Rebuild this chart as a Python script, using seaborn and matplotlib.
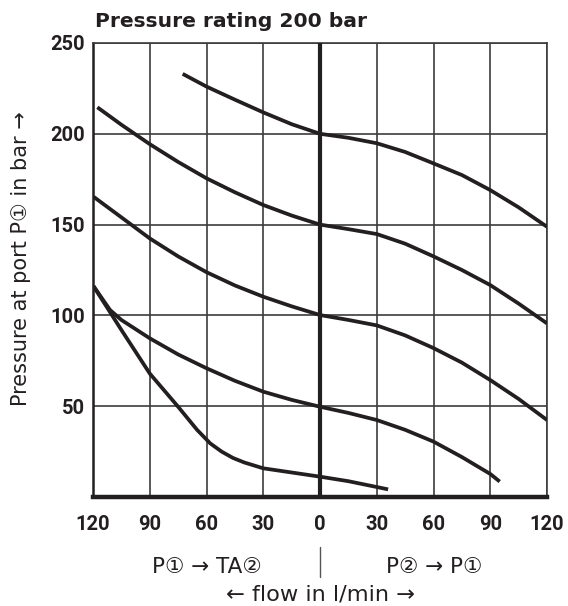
import matplotlib
matplotlib.use("Agg")
import matplotlib.pyplot as plt
import seaborn as sns
import pandas as pd

# ---- data (flow: negative = P1 -> TA2 side, positive = P2 -> P1 side) ----
curve_a_x = [-72.6, -60, -45, -30, -15, 0, 15, 30, 45, 60, 75, 90, 105, 120]
curve_a_y = [233, 226, 218.8, 211.8, 205.3, 200, 197.8, 194.8, 190, 183.7, 177.3, 169, 159.5, 148.8]

curve_b_x = [-117.7, -105, -90, -75, -60, -45, -30, -15, 0, 15, 30, 45, 60, 75, 90, 105, 120]
curve_b_y = [214.6, 205, 194.3, 184.5, 175.5, 167.8, 160.8, 155, 150, 147.5, 144.8, 139.5, 132.5, 125, 116.7, 106.5, 95.6]

curve_c_x = [-119.8, -105, -90, -75, -60, -45, -30, -15, 0, 15, 30, 45, 60, 75, 90, 105, 120]
curve_c_y = [165.4, 154, 142.4, 132.5, 123.8, 116.5, 110.3, 105, 100.2, 97.5, 94.5, 89, 82, 74, 64.4, 54, 42.4]

curve_d_x = [-119.8, -111, -105, -90, -75, -60, -45, -30, -15, 0, 15, 30, 45, 60, 75, 90, 95]
curve_d_y = [116.2, 103, 97.5, 87.4, 78.5, 70.9, 64, 58, 53.5, 49.7, 46.3, 42.4, 37, 30.5, 22, 12.7, 8.5]

curve_e_x = [-119.8, -105, -90, -75, -65, -58, -52, -46, -40, -30, -15, 0, 15, 30, 36]
curve_e_y = [116.2, 92, 68, 49.7, 37, 29.5, 25, 21.5, 19, 15.8, 13.5, 11.2, 8.7, 5.5, 4.2]

x_ticks = [-120, -90, -60, -30, 0, 30, 60, 90, 120]
x_tick_labels = ["120", "90", "60", "30", "0", "30", "60", "90", "120"]
y_ticks = [0, 50, 100, 150, 200, 250]
y_tick_labels = ["", "50", "100", "150", "200", "250"]

title = "Pressure rating 200 bar"
y_label = "Pressure at port P\u2460 in bar \u2192"
left_dir = "P\u2460 \u2192 TA\u2461"
right_dir = "P\u2461 \u2192 P\u2460"
x_label = "\u2190 flow in l/min \u2192"

frames = []
for name, xs, ys in [("a", curve_a_x, curve_a_y), ("b", curve_b_x, curve_b_y),
                     ("c", curve_c_x, curve_c_y), ("d", curve_d_x, curve_d_y),
                     ("e", curve_e_x, curve_e_y)]:
    frames.append(pd.DataFrame({"curve": name, "flow": xs, "pressure": ys}))
df = pd.concat(frames, ignore_index=True)

sns.set_style("white")
plt.rcParams["font.family"] = ["DejaVu Sans", "Noto Sans CJK JP"]

W, H = 568, 606
fig = plt.figure(figsize=(W / 100, H / 100), dpi=100)
ax = fig.add_axes([93 / W, 1 - 497 / H, 454 / W, 454 / H])

ink = "#231f20"
grid = "#3c3c3c"

sns.lineplot(data=df, x="flow", y="pressure", units="curve", estimator=None,
             sort=False, color=ink, linewidth=2.7, ax=ax, zorder=5)
for ln in ax.get_lines():
    ln.set_solid_joinstyle("round")
    ln.set_solid_capstyle("butt")

ax.set_xlim(-120, 120)
ax.set_ylim(0, 250)
ax.set_xticks(x_ticks)
ax.set_xticklabels(x_tick_labels)
ax.set_yticks(y_ticks)
ax.set_yticklabels(y_tick_labels)
ax.grid(True, color=grid, linewidth=1.2, zorder=1)
ax.set_axisbelow(True)
ax.axvline(0, color=ink, linewidth=3.0, zorder=4)

for s in ["top", "right"]:
    ax.spines[s].set_color(grid)
    ax.spines[s].set_linewidth(1.2)
ax.spines["left"].set_color(ink)
ax.spines["left"].set_linewidth(1.8)
ax.spines["bottom"].set_color(ink)
ax.spines["bottom"].set_linewidth(3.2)

ax.tick_params(axis="both", length=0, colors=ink)
ax.tick_params(axis="x", pad=13)
ax.tick_params(axis="y", pad=6)
for lab in ax.get_xticklabels() + ax.get_yticklabels():
    lab.set_fontfamily(["Roboto", "DejaVu Sans"])
    lab.set_fontweight("bold")
    lab.set_fontsize(14.5)
    lab.set_color(ink)

ax.set_xlabel("")
ax.set_ylabel("")

fig.text(95 / W, 1 - 27 / H, title, ha="left", va="baseline",
         fontsize=14.6, fontweight="bold", color=ink,
         family=["DejaVu Sans"])

reg = ["DejaVu Sans", "Noto Sans CJK JP"]
fig.text(21 / W, 1 - 259 / H, y_label, rotation=90, ha="center", va="center",
         fontsize=15.0, color=ink, family=reg)

fig.text(207 / W, 1 - 573 / H, left_dir, ha="center", va="baseline",
         fontsize=15.5, color=ink, family=reg)
fig.text(434 / W, 1 - 573 / H, right_dir, ha="center", va="baseline",
         fontsize=15.5, color=ink, family=reg)
fig.text(320 / W, 1 - 601 / H, x_label, ha="center", va="baseline",
         fontsize=16.2, color=ink, family=reg)

fig.add_artist(plt.Line2D([320 / W, 320 / W], [1 - 547 / H, 1 - 577 / H],
                          transform=fig.transFigure, color="#555555", linewidth=1.0))

fig.savefig("out.png", dpi=100)
